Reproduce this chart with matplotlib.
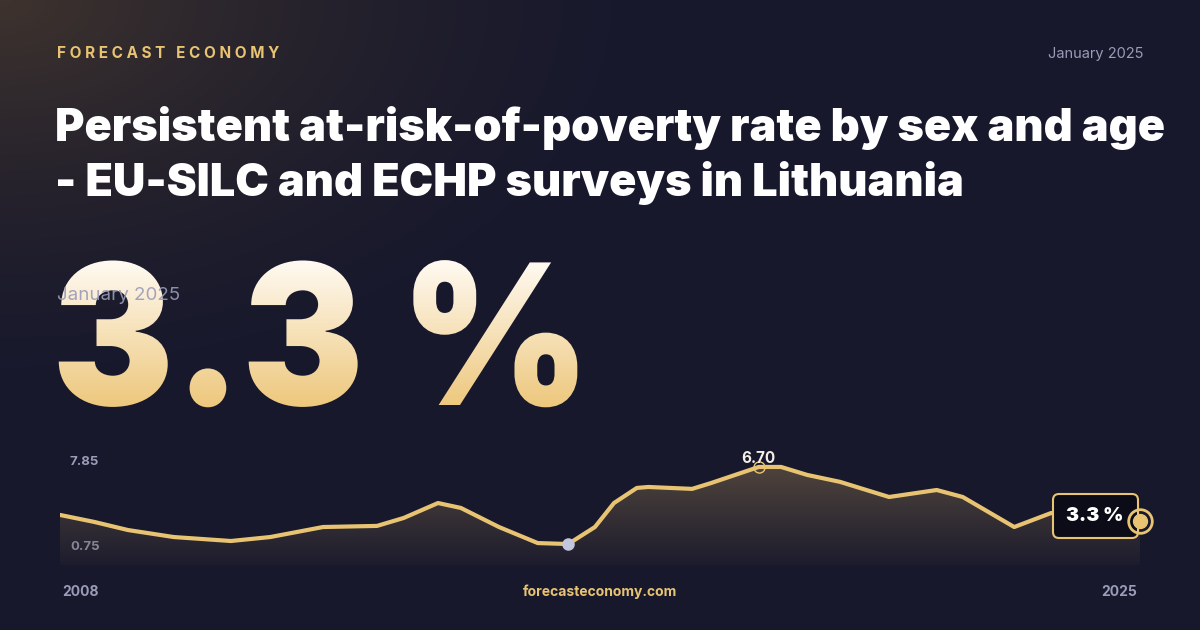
import numpy as np
import matplotlib
matplotlib.use("Agg")
from matplotlib import pyplot as plt
from matplotlib.textpath import TextPath
from matplotlib.font_manager import FontProperties
from matplotlib.patches import PathPatch, FancyBboxPatch, Polygon
from matplotlib.transforms import Affine2D

# data
years = [2008.0, 2008.54, 2009.07, 2009.79, 2010.69, 2011.31, 2012.14, 2012.99, 2013.41,
         2013.95, 2014.31, 2014.91, 2015.52, 2016.0, 2016.42, 2016.72, 2017.08, 2017.26,
         2017.95, 2018.25, 2019.0, 2019.35, 2019.76, 2020.28, 2021.05, 2021.8, 2022.21,
         2023.02, 2023.6, 2025.0]
values = [3.68, 3.24, 2.73, 2.29, 2.04, 2.29, 2.92, 2.99, 3.49, 4.43, 4.12, 2.92, 1.91,
          1.85, 2.92, 4.43, 5.38, 5.44, 5.32, 5.69, 6.70, 6.70, 6.20, 5.76, 4.81, 5.25,
          4.81, 2.92, 3.80, 3.3]
y_ticks = ["7.85", "0.75"]
x_ticks = ["2008", "2025"]

GOLD = "#e8c372"
GREY = "#9a9cb8"
W, H = 1200, 630

fig = plt.figure(figsize=(12, 6.3), dpi=100)
bg = fig.add_axes([0, 0, 1, 1])
bg.set_xlim(0, W)
bg.set_ylim(H, 0)
bg.axis("off")

# background with warm glow top-left
yy, xx = np.mgrid[0:H, 0:W]
d = np.sqrt((xx / 700.0) ** 2 + (yy / 420.0) ** 2)
glow = np.clip(1 - d, 0, 1) ** 1.6
base = np.array([0x17, 0x18, 0x2c]) / 255.0
warm = np.array([0x3e, 0x33, 0x2e]) / 255.0
img = base[None, None, :] * (1 - glow[..., None]) + warm[None, None, :] * glow[..., None]
bg.imshow(img, extent=[0, W, H, 0], aspect="auto", zorder=0)

bg.text(57, 53, "F O R E C A S T   E C O N O M Y", color=GOLD, fontsize=11, fontweight="bold",
        family="Inter", va="center", ha="left")
bg.text(1143, 54, "January 2025", color=GREY, fontsize=10.5, family="Inter", va="center", ha="right")
bg.text(55, 128, "Persistent at-risk-of-poverty rate by sex and age", color="white",
        fontsize=32.4, fontweight="black", family="Inter", va="center", ha="left")
bg.text(55, 183, "- EU-SILC and ECHP surveys in Lithuania", color="white",
        fontsize=32.4, fontweight="black", family="Inter", va="center", ha="left")

# big value with vertical gradient
fp = FontProperties(family="Inter", weight="black")
tp = TextPath((0, 0), "3.3 %", size=196, prop=fp)
tr = Affine2D().scale(0.93, -1).translate(52, 405)
patch = PathPatch(tr.transform_path(tp), facecolor="none", edgecolor="none")
bg.add_patch(patch)
grad = np.linspace(0, 1, 256)[:, None]
top = np.array([1.0, 0.98, 0.95])
bot = np.array([0.93, 0.78, 0.48])
gimg = top[None, None, :] * (1 - grad[..., None]) + bot[None, None, :] * grad[..., None]
gi = bg.imshow(np.repeat(gimg, 2, axis=1), extent=[40, 620, 410, 260], aspect="auto", zorder=2)
gi.set_clip_path(patch)
bg.set_xlim(0, W)
bg.set_ylim(H, 0)
bg.text(57, 296, "January 2025", color=GREY, fontsize=13.5, family="Inter", va="center",
        ha="left", zorder=3, alpha=0.9)

# line chart
ax = fig.add_axes([60 / W, 65 / H, 1080 / W, 116 / H])
ax.set_zorder(1)
ymin, ymax = 0.53, 7.83
poly = Polygon(list(zip(years, values)) + [(2025, ymin), (2008, ymin)], closed=True,
               facecolor="none", edgecolor="none")
ax.add_patch(poly)
fill = np.linspace(0, 1, 100)[:, None]
fimg = np.zeros((100, 2, 4))
fimg[..., 0] = 0.33
fimg[..., 1] = 0.28
fimg[..., 2] = 0.24
fimg[..., 3] = (0.85 * (1 - fill) + 0.1)
fi = ax.imshow(fimg, extent=[2008, 2025, ymin, 6.9], origin="upper", aspect="auto", zorder=1)
fi.set_clip_path(poly)
ax.plot(years, values, color=GOLD, lw=3, solid_joinstyle="round", solid_capstyle="round", zorder=3)

imax = int(np.argmax(values))
imin = int(np.argmin(values))
ax.plot(years[imax], values[imax], "o", ms=8, mfc="none", mec=GOLD, mew=1, zorder=4)
ax.text(years[imax], values[imax] + 0.05, "%.2f" % values[imax], color="#f3efe6", fontsize=11,
        fontweight="bold", family="Inter", ha="center", va="bottom", zorder=5)
ax.plot(years[imin], values[imin], "o", ms=8, color="#c3c6dc", zorder=4)
ax.set_xlim(2008, 2025)
ax.set_ylim(ymin, ymax)
ax.axis("off")

# overlay for the end label
top_ax = fig.add_axes([0, 0, 1, 1])
top_ax.set_zorder(2)
top_ax.set_xlim(0, W)
top_ax.set_ylim(H, 0)
top_ax.axis("off")
box = FancyBboxPatch((1053, 494), 85, 44, boxstyle="round,pad=0,rounding_size=6",
                     facecolor="#0b0c17", edgecolor=GOLD, lw=1.5, zorder=6)
top_ax.add_patch(box)
top_ax.text(1095, 516, "3.3 %", color="white", fontsize=14, fontweight="black", family="Inter",
            ha="center", va="center", zorder=7)
ex, ey = ax.transData.transform((years[-1], values[-1]))
ex, ey = top_ax.transData.inverted().transform((ex, ey))
top_ax.plot(ex, ey, "o", ms=17, mfc="none", mec=GOLD, mew=2, zorder=8, clip_on=False)
top_ax.plot(ex, ey, "o", ms=10, color=GOLD, zorder=9, clip_on=False)

bg.text(70, 462, y_ticks[0], color=GREY, fontsize=9.5, fontweight="bold", family="Inter", va="center")
bg.text(70, 547, y_ticks[1], color=GREY, fontsize=9.5, fontweight="bold", family="Inter", va="center")
bg.text(62, 592, x_ticks[0], color=GREY, fontsize=10, fontweight="bold", family="Inter", va="center")
bg.text(1137, 592, x_ticks[1], color=GREY, fontsize=10, fontweight="bold", family="Inter",
        va="center", ha="right")
bg.text(600, 592, "forecasteconomy.com", color=GOLD, fontsize=10, fontweight="bold",
        family="Inter", va="center", ha="center")

fig.savefig("out.png", dpi=100)
